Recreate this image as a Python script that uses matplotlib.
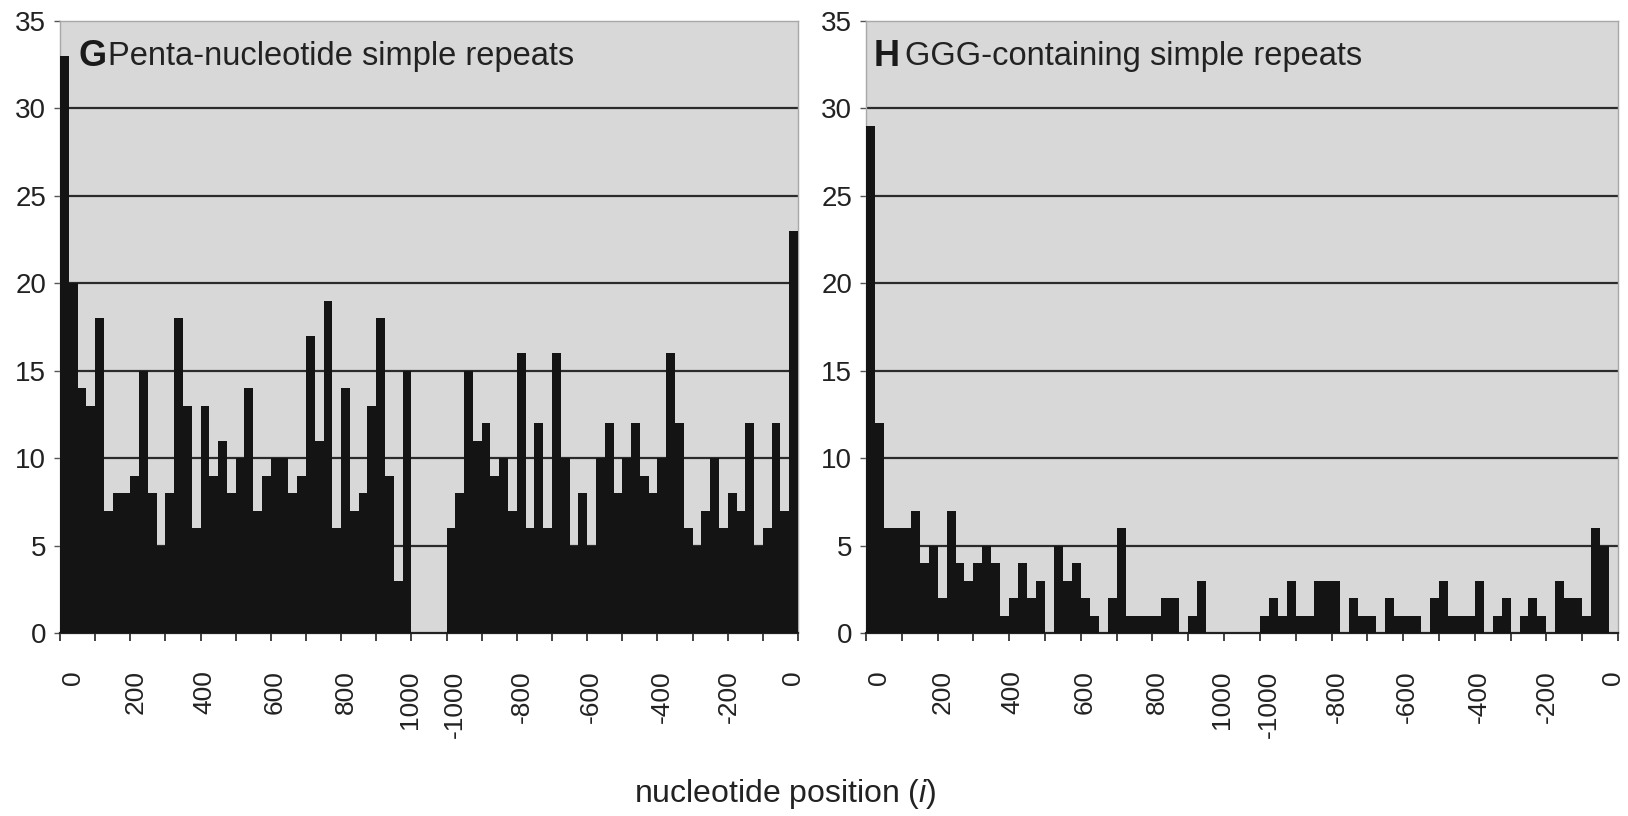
import matplotlib.pyplot as plt
import numpy as np

# Conteos (un bin = ~25 nt, mitad 5' y mitad 3')
penta_counts = [33, 20, 14, 13, 18, 7, 8, 8, 9, 15, 8, 5, 8, 18, 13, 6, 13, 9, 11, 8,
                10, 14, 7, 9, 10, 10, 8, 9, 17, 11, 19, 6, 14, 7, 8, 13, 18, 9, 3, 15,
                0, 0, 0, 0,
                6, 8, 15, 11, 12, 9, 10, 7, 16, 6, 12, 6, 16, 10, 5, 8, 5, 10, 12, 8,
                10, 12, 9, 8, 10, 16, 12, 6, 5, 7, 10, 6, 8, 7, 12, 5, 6, 12, 7, 23]
ggg_counts = [29, 12, 6, 6, 6, 7, 4, 5, 2, 7, 4, 3, 4, 5, 4, 1, 2, 4, 2, 3,
              0, 5, 3, 4, 2, 1, 0, 2, 6, 1, 1, 1, 1, 2, 2, 0, 1, 3, 0, 0,
              0, 0, 0, 0,
              1, 2, 1, 3, 1, 1, 3, 3, 3, 0, 2, 1, 1, 0, 2, 1, 1, 1, 0, 2,
              3, 1, 1, 1, 3, 0, 1, 2, 0, 1, 2, 1, 0, 3, 2, 2, 1, 6, 5, 0]

tick_labels = ['0', '200', '400', '600', '800', '1000',
               '-1000', '-800', '-600', '-400', '-200', '0']
label_bins = [1.5, 8.6, 16.4, 24.4, 32.5, 39.8, 45.0, 52.6, 60.4, 68.5, 76.1, 83.4]
panel_letters = ['G', 'H']
panel_titles = ['Penta-nucleotide simple repeats', 'GGG-containing simple repeats']

plt.rcParams['font.family'] = ['Liberation Sans', 'DejaVu Sans']
plt.rcParams['mathtext.fontset'] = 'custom'
plt.rcParams['mathtext.rm'] = 'Liberation Sans'
plt.rcParams['mathtext.it'] = 'Liberation Sans:italic'

fig = plt.figure(figsize=(16.28, 8.16), dpi=100)

W, H = 1628, 816
rects = [[60 / W, 183 / H, 738 / W, 612 / H],
         [866 / W, 183 / H, 752 / W, 612 / H]]
# posicion del texto de cada panel en pixeles de la figura
letter_px = [78, 874]
title_px = [108, 905]

for rect, counts, letter, title, lx, tx in zip(rects, [penta_counts, ggg_counts],
                                              panel_letters, panel_titles,
                                              letter_px, title_px):
    ax = fig.add_axes(rect)
    ax.set_facecolor('#d8d8d8')
    x = np.arange(len(counts))
    ax.bar(x, counts, width=1.0, align='edge', color='#141414', edgecolor='none', zorder=3)

    # lineas horizontales de la rejilla
    for y in range(5, 35, 5):
        ax.axhline(y, color='#2b2b2b', lw=1.6, zorder=2)

    ax.set_xlim(0, len(counts))
    ax.set_ylim(0, 35)
    ax.set_yticks(range(0, 36, 5))
    ax.tick_params(axis='y', length=4, width=1, color='#555555', labelsize=20,
                   labelcolor='#222222', pad=6)

    ax.set_xticks(range(0, len(counts) + 1, 4), minor=True)
    ax.set_xticks(label_bins)
    ax.set_xticklabels(tick_labels, rotation=90)
    ax.tick_params(axis='x', which='major', length=0, labelsize=19,
                   labelcolor='#222222', pad=27)
    ax.tick_params(axis='x', which='minor', length=6, width=1.2, color='#222222')

    for side in ['top', 'right', 'left']:
        ax.spines[side].set_color('#a8a8a8')
        ax.spines[side].set_linewidth(1.0)
    ax.spines['bottom'].set_color('#222222')
    ax.spines['bottom'].set_linewidth(1.6)

    fig.text(lx / W, 1 - 57 / H, letter, fontsize=26, fontweight='bold',
             color='#1a1a1a', va='center', ha='left', zorder=5)
    fig.text(tx / W, 1 - 57 / H, title, fontsize=23.5,
             color='#222222', va='center', ha='left', zorder=5)

fig.text(785 / W, 1 - 794 / H, 'nucleotide position ($\\mathit{i}$)',
         ha='center', va='center', fontsize=23, color='#222222')

plt.savefig('out.png', dpi=100)
